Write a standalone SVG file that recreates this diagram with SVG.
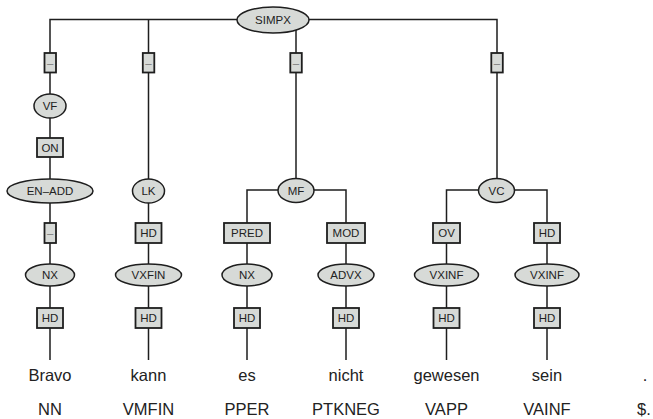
<svg xmlns="http://www.w3.org/2000/svg" width="653" height="419" viewBox="0 0 653 419">
<defs>
<style>
.e{fill:#d7dad7;stroke:#1e1e1e;stroke-width:1.5}
.b{fill:#d7dad7;stroke:#1e1e1e;stroke-width:1.8}
.l{fill:#222;font-family:"Liberation Sans",Arial,sans-serif;font-size:11.5px;text-anchor:middle}
.d{fill:#777;font-family:"Liberation Sans",Arial,sans-serif;font-size:11.5px;text-anchor:middle}
.w{fill:#222;font-family:"Liberation Sans",Arial,sans-serif;font-size:16.5px;text-anchor:middle}
.c{fill:none;stroke:#1e1e1e;stroke-width:1.5}
</style>
</defs>
<rect width="653" height="419" fill="#fff"/>
<g id="connectors" class="c">
<path d="M50,360V19.5H497V190"/>
<path d="M148.5,19.5V360"/>
<path d="M296,19.5V190"/>
<path d="M247,360V190H346V360"/>
<path d="M446.5,360V190H547V360"/>
</g>
<g id="SIMPX"><ellipse class="e" cx="273" cy="20" rx="36" ry="13"/><text class="l" x="273" y="24.2">SIMPX</text></g>
<g id="e1"><rect class="b" x="44.5" y="53" width="11.5" height="19.5"/><text class="d" x="50.2" y="66.5">–</text></g>
<g id="e2"><rect class="b" x="142.8" y="53" width="11.5" height="19.5"/><text class="d" x="148.5" y="66.5">–</text></g>
<g id="e3"><rect class="b" x="290.3" y="53" width="11.5" height="19.5"/><text class="d" x="296" y="66.5">–</text></g>
<g id="e4"><rect class="b" x="491.3" y="53" width="11.5" height="19.5"/><text class="d" x="497" y="66.5">–</text></g>
<g id="VF"><ellipse class="e" cx="50" cy="106" rx="16" ry="12"/><text class="l" x="50" y="110.2">VF</text></g>
<g id="ON"><rect class="b" x="37" y="138" width="26" height="19"/><text class="l" x="50" y="151.5">ON</text></g>
<g id="ENADD"><ellipse class="e" cx="50" cy="191" rx="43" ry="12"/><text class="l" x="50" y="195.2">EN–ADD</text></g>
<g id="LK"><ellipse class="e" cx="148.5" cy="191" rx="16" ry="12"/><text class="l" x="148.5" y="195.2">LK</text></g>
<g id="MF"><ellipse class="e" cx="296" cy="190.5" rx="18" ry="12"/><text class="l" x="296" y="194.7">MF</text></g>
<g id="VC"><ellipse class="e" cx="496.5" cy="190.5" rx="18" ry="12"/><text class="l" x="496.5" y="194.7">VC</text></g>
<g id="e5"><rect class="b" x="44.5" y="223" width="11.5" height="20"/><text class="d" x="50.2" y="236.8">–</text></g>
<g id="HD1"><rect class="b" x="135.5" y="223" width="26" height="20"/><text class="l" x="148.5" y="237.2">HD</text></g>
<g id="PRED"><rect class="b" x="224" y="223" width="46" height="20"/><text class="l" x="247" y="237.2">PRED</text></g>
<g id="MOD"><rect class="b" x="327" y="223" width="38" height="20"/><text class="l" x="346" y="237.2">MOD</text></g>
<g id="OV"><rect class="b" x="433" y="223" width="27" height="20"/><text class="l" x="446.5" y="237.2">OV</text></g>
<g id="HD2"><rect class="b" x="534" y="223" width="26" height="20"/><text class="l" x="547" y="237.2">HD</text></g>
<g id="NX1"><ellipse class="e" cx="50" cy="275" rx="24.5" ry="11"/><text class="l" x="50" y="279.2">NX</text></g>
<g id="VXFIN"><ellipse class="e" cx="148.5" cy="275" rx="33" ry="11"/><text class="l" x="148.5" y="279.2">VXFIN</text></g>
<g id="NX2"><ellipse class="e" cx="247" cy="275" rx="25" ry="11"/><text class="l" x="247" y="279.2">NX</text></g>
<g id="ADVX"><ellipse class="e" cx="346" cy="275" rx="28" ry="11"/><text class="l" x="346" y="279.2">ADVX</text></g>
<g id="VXINF1"><ellipse class="e" cx="446.5" cy="275" rx="32" ry="11"/><text class="l" x="446.5" y="279.2">VXINF</text></g>
<g id="VXINF2"><ellipse class="e" cx="547" cy="275" rx="32" ry="11"/><text class="l" x="547" y="279.2">VXINF</text></g>
<g id="HD3"><rect class="b" x="37" y="308" width="26" height="20"/><text class="l" x="50" y="322.2">HD</text></g>
<g id="HD4"><rect class="b" x="135.5" y="308" width="26" height="20"/><text class="l" x="148.5" y="322.2">HD</text></g>
<g id="HD5"><rect class="b" x="234" y="308" width="26" height="20"/><text class="l" x="247" y="322.2">HD</text></g>
<g id="HD6"><rect class="b" x="333" y="308" width="26" height="20"/><text class="l" x="346" y="322.2">HD</text></g>
<g id="HD7"><rect class="b" x="433.5" y="308" width="26" height="20"/><text class="l" x="446.5" y="322.2">HD</text></g>
<g id="HD8"><rect class="b" x="534" y="308" width="26" height="20"/><text class="l" x="547" y="322.2">HD</text></g>
<g id="words">
<text class="w" x="50" y="381">Bravo</text>
<text class="w" x="148.5" y="381">kann</text>
<text class="w" x="247" y="381">es</text>
<text class="w" x="346" y="381">nicht</text>
<text class="w" x="446.5" y="381">gewesen</text>
<text class="w" x="547" y="381">sein</text>
<text class="w" x="645" y="381">.</text>
</g>
<g id="tags">
<text class="w" x="50" y="415">NN</text>
<text class="w" x="148.5" y="415">VMFIN</text>
<text class="w" x="247" y="415">PPER</text>
<text class="w" x="346" y="415">PTKNEG</text>
<text class="w" x="446.5" y="415">VAPP</text>
<text class="w" x="547" y="415">VAINF</text>
<text class="w" x="644" y="415">$.</text>
</g>
</svg>
